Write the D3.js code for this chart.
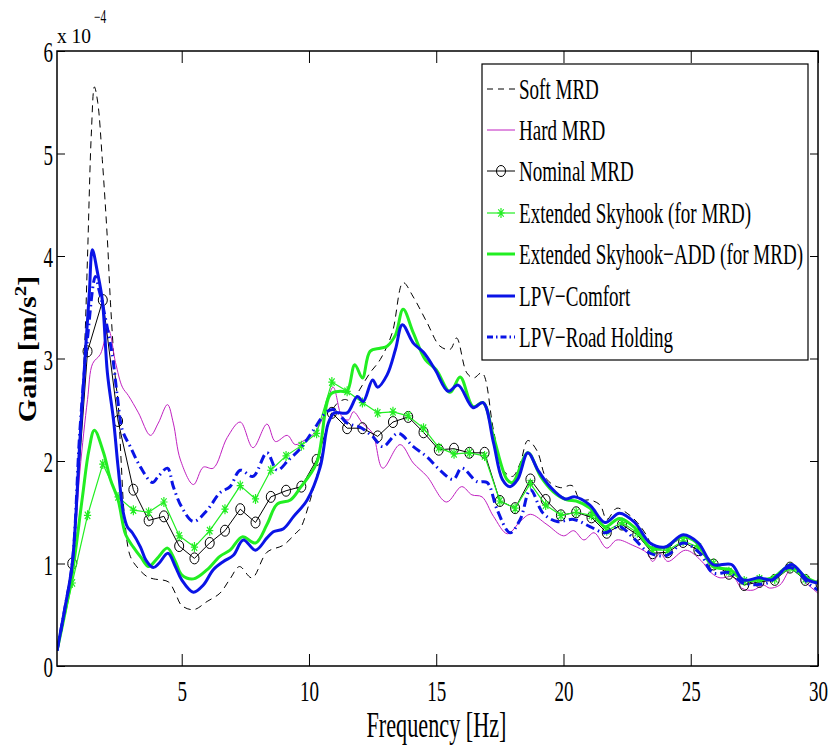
<!DOCTYPE html>
<html>
<head>
<meta charset="utf-8">
<script src="https://cdn.jsdelivr.net/npm/d3@7"></script>
<style>
  html, body { margin: 0; padding: 0; background: #fff; }
  svg { display: block; }
  text { font-family: "Liberation Serif", "Times New Roman", serif; fill: #000; }
</style>
</head>
<body>
<svg id="chart" width="829" height="746"></svg>
<script>
// ---------------- DATA (gain in units of 1e-4 m/s^2) ----------------
const seriesNames = ["Soft MRD", "Hard MRD", "Nominal MRD", "Extended Skyhook (for MRD)",
  "Extended Skyhook\u2212ADD (for MRD)", "LPV\u2212Comfort", "LPV\u2212Road Holding"];

const xTicks = [5, 10, 15, 20, 25, 30];
const yTicks = [0, 1, 2, 3, 4, 5, 6];
const yTickLabels = ["0", "1", "2", "3", "4", "5", "6"];

const softFreq = [0.1,0.4,0.7,0.95,1.18,1.3,1.45,1.57,1.7,1.88,2.08,2.2,2.4,2.5,2.62,2.75,2.98,3.3,3.65,3.9,4.48,4.75,5.0,5.47,6.0,6.5,6.9,7.27,7.76,8.35,9.0,9.5,9.66,10.05,10.44,11.0,11.4,11.7,12.0,12.4,12.8,13.27,13.7,14.1,14.64,15.15,15.55,15.8,16.2,16.47,16.8,17.25,17.63,18.0,18.3,18.6,18.96,19.35,19.87,20.34,20.65,21.04,21.44,21.7,22.1,22.5,22.9,23.3,23.5,24.07,24.7,25.25,25.75,26.27,26.66,27.05,27.7,28.2,28.9,29.5,30];
const softGain = [0.15,0.55,1.0,2.0,3.08,4.0,5.2,5.65,5.5,4.94,4.16,3.55,2.79,2.57,2.0,1.46,1.07,0.95,0.87,0.85,0.82,0.71,0.59,0.55,0.63,0.71,0.85,0.97,0.86,1.11,1.18,1.3,1.34,1.62,1.98,2.53,2.6,2.58,2.7,2.86,2.99,3.25,3.74,3.6,3.35,3.12,3.09,3.2,2.86,2.81,2.86,2.3,1.91,1.85,1.98,2.2,2.1,1.82,1.74,1.76,1.62,1.62,1.57,1.43,1.54,1.49,1.40,1.26,1.16,1.15,1.26,1.2,1.02,0.94,0.97,0.81,0.84,0.85,0.97,0.85,0.8];

const hardFreq = [0.1,0.4,0.7,1.0,1.3,1.5,1.8,2.12,2.4,2.67,2.9,3.3,3.77,4.08,4.44,4.67,4.95,5.46,5.85,6.24,6.79,7.3,7.8,8.35,8.68,9.15,9.46,9.8,10.17,10.56,10.95,11.3,11.55,11.75,12.1,12.5,12.9,13.58,14.1,14.64,15.4,16.0,16.4,16.8,17.25,17.8,18.3,18.7,19.35,20.0,20.4,20.8,21.2,21.7,22.1,22.7,23.3,23.5,23.8,24.1,24.8,25.4,25.8,26.15,26.66,27.0,27.45,27.85,28.1,28.5,29.0,29.5,30];
const hardGain = [0.15,0.5,0.95,1.9,2.6,2.95,3.04,3.28,2.96,2.72,2.64,2.47,2.25,2.37,2.55,2.37,2.01,1.77,1.94,1.93,2.23,2.38,2.13,2.36,2.19,2.25,2.16,2.2,2.26,2.43,2.72,2.43,2.40,2.48,2.37,2.27,1.93,2.16,1.98,1.85,1.6,1.75,1.67,1.65,1.46,1.29,1.41,1.48,1.38,1.27,1.32,1.23,1.30,1.15,1.23,1.18,1.10,1.02,1.10,1.02,1.13,1.03,0.91,0.86,0.87,0.76,0.74,0.79,0.76,0.79,0.96,0.82,0.71];

const nominalFreq = [0.1,0.7,1.3,1.9,2.5,3.1,3.7,4.3,4.9,5.5,6.1,6.7,7.3,7.9,8.5,9.1,9.7,10.3,10.9,11.5,12.1,12.7,13.3,13.9,14.5,15.1,15.7,16.3,16.9,17.5,18.1,18.7,19.3,19.9,20.5,21.1,21.7,22.3,22.9,23.5,24.1,24.7,25.3,25.9,26.5,27.1,27.7,28.3,28.9,29.5,30.1];
const nominalGain = [0.15,1.0,3.07,3.57,2.39,1.72,1.42,1.46,1.17,1.05,1.20,1.32,1.53,1.40,1.65,1.71,1.75,2.01,2.47,2.32,2.32,2.24,2.38,2.43,2.28,2.11,2.12,2.08,2.08,1.61,1.54,1.82,1.62,1.47,1.50,1.45,1.30,1.38,1.28,1.10,1.11,1.21,1.13,0.99,0.90,0.79,0.82,0.84,0.96,0.84,0.80];

const skyhookFreq = nominalFreq;
const skyhookGain = [0.15,0.81,1.47,1.97,1.65,1.52,1.50,1.60,1.27,1.16,1.32,1.53,1.76,1.63,1.91,2.05,2.15,2.27,2.77,2.68,2.57,2.47,2.48,2.44,2.32,2.13,2.07,2.08,2.05,1.61,1.54,1.78,1.57,1.47,1.50,1.47,1.32,1.40,1.30,1.13,1.13,1.22,1.16,1.00,0.92,0.83,0.85,0.85,0.96,0.85,0.80];

const addFreq = [0.1,0.4,0.7,1.1,1.35,1.57,1.93,2.2,2.5,2.8,3.1,3.4,3.7,4.04,4.44,4.75,5.0,5.46,6.0,6.5,6.9,7.38,7.9,8.35,8.75,9.27,9.66,10.3,10.84,11.23,11.5,11.8,12.1,12.4,12.8,13.07,13.4,13.7,14.1,14.57,15.0,15.55,15.94,16.45,16.84,17.25,17.78,18.0,18.6,19.1,19.6,20.13,20.5,21.04,21.63,22.2,22.8,23.4,24.0,24.66,25.25,25.87,26.54,27.05,27.7,28.2,28.9,29.56,30];
const addGain = [0.15,0.5,0.9,1.65,2.1,2.30,2.08,1.82,1.62,1.28,1.16,1.06,0.97,1.05,1.15,1.02,0.89,0.85,0.94,1.07,1.13,1.26,1.20,1.38,1.58,1.62,1.74,1.98,2.65,2.68,2.68,2.94,2.81,3.07,3.1,3.12,3.23,3.48,3.25,2.99,2.89,2.67,2.82,2.53,2.57,2.24,1.82,1.79,2.08,1.85,1.70,1.62,1.61,1.54,1.36,1.44,1.35,1.16,1.16,1.26,1.20,0.97,0.94,0.84,0.84,0.86,0.97,0.86,0.81];

const comfortFreq = [0.1,0.4,0.7,1.0,1.22,1.37,1.49,1.69,1.88,2.08,2.32,2.5,2.71,2.86,3.06,3.38,3.6,3.88,4.1,4.46,4.75,5.0,5.46,5.85,6.24,6.64,7.03,7.42,7.9,8.35,8.6,9.0,9.4,9.93,10.44,10.76,11.0,11.5,11.9,12.13,12.5,12.7,13.07,13.4,13.67,14.1,14.5,14.96,15.47,15.86,16.45,16.84,17.25,17.6,17.9,18.2,18.6,19.0,19.47,20.06,20.45,21.04,21.63,22.2,22.8,23.4,24.0,24.7,25.3,25.87,26.6,27.05,27.7,28.2,28.95,29.6,30];
const comfortGain = [0.15,0.55,1.0,2.2,3.08,3.64,4.06,3.84,3.57,2.86,2.4,1.94,1.49,1.36,1.3,1.16,1.03,0.96,1.0,1.10,0.97,0.84,0.72,0.79,0.94,1.02,1.08,1.23,1.13,1.25,1.31,1.34,1.46,1.62,1.94,2.37,2.47,2.47,2.63,2.58,2.79,2.72,2.84,3.09,3.33,3.15,3.06,2.89,2.68,2.74,2.52,2.57,2.18,1.82,1.75,1.82,2.08,1.91,1.75,1.63,1.65,1.57,1.40,1.49,1.40,1.20,1.16,1.28,1.20,0.99,0.99,0.84,0.86,0.84,0.99,0.84,0.81];

const roadFreq = [0.1,0.4,0.7,1.0,1.3,1.61,1.75,1.93,2.28,2.47,2.67,2.98,3.38,3.85,4.08,4.44,4.67,5.0,5.46,6.0,6.5,6.9,7.3,7.8,8.35,8.75,9.2,9.66,10.17,10.7,11.0,11.5,12.0,12.5,12.9,13.5,14.1,14.64,15.15,15.67,16.0,16.6,17.0,17.4,17.9,18.3,18.7,19.2,19.75,20.4,21.04,21.63,22.2,22.7,23.4,24.07,24.7,25.36,25.87,26.54,27.05,28.0,28.9,29.7,30];
const roadGain = [0.15,0.55,1.0,2.3,3.2,3.8,3.67,3.48,3.02,2.63,2.30,2.14,1.94,1.79,1.85,1.93,1.75,1.55,1.41,1.52,1.69,1.75,1.91,1.85,2.08,1.91,2.01,2.12,2.30,2.48,2.5,2.37,2.33,2.24,2.14,2.27,2.14,2.04,1.91,1.82,1.93,1.80,1.79,1.52,1.30,1.43,1.72,1.49,1.41,1.43,1.36,1.30,1.36,1.26,1.10,1.08,1.20,1.10,0.91,0.91,0.81,0.81,0.96,0.79,0.74];

// ---------------- CHART ----------------
const svg = d3.select("#chart");
const L = 57, R = 818, T = 51, B = 666;
const SX = 0.635; // horizontal glyph compression

const x = d3.scaleLinear().domain([0.1, 30]).range([L, R]);
const y = d3.scaleLinear().domain([0, 6]).range([B, T]);

svg.append("defs").append("clipPath").attr("id", "clip")
  .append("rect").attr("x", L).attr("y", T).attr("width", R - L).attr("height", B - T);

const zip = (xs, ys) => xs.map((f, i) => [f, ys[i]]);
const smooth = d3.line().x(d => x(d[0])).y(d => y(d[1])).curve(d3.curveCatmullRom.alpha(0.5));
const straight = d3.line().x(d => x(d[0])).y(d => y(d[1]));

const series = [
  { name: seriesNames[0], data: zip(softFreq, softGain), line: smooth, color: "#000", width: 1, dash: "7,5" },
  { name: seriesNames[1], data: zip(hardFreq, hardGain), line: smooth, color: "#c020c0", width: 1, dash: null },
  { name: seriesNames[2], data: zip(nominalFreq, nominalGain), line: straight, color: "#000", width: 1, dash: null, marker: "circle" },
  { name: seriesNames[3], data: zip(skyhookFreq, skyhookGain), line: straight, color: "#22ee22", width: 1.2, dash: null, marker: "star" },
  { name: seriesNames[4], data: zip(addFreq, addGain), line: smooth, color: "#22ee22", width: 3, dash: null },
  { name: seriesNames[5], data: zip(comfortFreq, comfortGain), line: smooth, color: "#0a14e6", width: 3, dash: null },
  { name: seriesNames[6], data: zip(roadFreq, roadGain), line: smooth, color: "#0a14e6", width: 3, dash: "9,4,1.5,4" }
];

const plot = svg.append("g").attr("clip-path", "url(#clip)");

function drawMarker(g, type, cx, cy, color) {
  if (type === "circle") {
    g.append("ellipse").attr("cx", cx).attr("cy", cy).attr("rx", 4.5).attr("ry", 5.5)
      .attr("fill", "none").attr("stroke", color).attr("stroke-width", 1);
  } else if (type === "star") {
    const hx = 3.6, hy = 5;
    const p = `M${cx - hx},${cy}L${cx + hx},${cy}M${cx},${cy - hy}L${cx},${cy + hy}` +
      `M${cx - hx * 0.75},${cy - hy * 0.75}L${cx + hx * 0.75},${cy + hy * 0.75}` +
      `M${cx - hx * 0.75},${cy + hy * 0.75}L${cx + hx * 0.75},${cy - hy * 0.75}`;
    g.append("path").attr("d", p).attr("stroke", color).attr("stroke-width", 1.2).attr("fill", "none");
  }
}

series.forEach(s => {
  plot.append("path").datum(s.data)
    .attr("d", s.line)
    .attr("fill", "none")
    .attr("stroke", s.color)
    .attr("stroke-width", s.width)
    .attr("stroke-linejoin", "round")
    .attr("stroke-dasharray", s.dash);
  if (s.marker) {
    const mg = plot.append("g");
    s.data.slice(1).forEach(d => drawMarker(mg, s.marker, x(d[0]), y(d[1]), s.color));
  }
});

// ---------------- AXES ----------------
svg.append("rect").attr("x", L).attr("y", T).attr("width", R - L).attr("height", B - T)
  .attr("fill", "none").attr("stroke", "#000").attr("stroke-width", 1.5);

const xAxis = svg.append("g").attr("transform", `translate(0,${B})`)
  .call(d3.axisBottom(x).tickValues(xTicks).tickSizeInner(-12).tickSizeOuter(0));
xAxis.select(".domain").remove();
xAxis.selectAll(".tick line").attr("stroke-width", 1);
xAxis.selectAll(".tick text")
  .attr("y", 35).attr("dy", 0)
  .attr("font-size", 30).attr("font-family", "Liberation Serif")
  .attr("transform", `scale(${SX},1)`);

const xAxisTop = svg.append("g").attr("transform", `translate(0,${T})`)
  .call(d3.axisTop(x).tickValues(xTicks).tickSizeInner(-12).tickSizeOuter(0).tickFormat(""));
xAxisTop.select(".domain").remove();

const yAxis = svg.append("g").attr("transform", `translate(${L},0)`)
  .call(d3.axisLeft(y).tickValues(yTicks).tickSizeInner(-8).tickSizeOuter(0)
    .tickFormat((d, i) => yTickLabels[i]));
yAxis.select(".domain").remove();
yAxis.selectAll(".tick text")
  .attr("x", -4 / SX).attr("dy", 10.5)
  .attr("font-size", 30).attr("font-family", "Liberation Serif")
  .attr("transform", `scale(${SX},1)`);

const yAxisRight = svg.append("g").attr("transform", `translate(${R},0)`)
  .call(d3.axisRight(y).tickValues(yTicks).tickSizeInner(-8).tickSizeOuter(0).tickFormat(""));
yAxisRight.select(".domain").remove();

// exponent label
svg.append("text").attr("transform", `translate(57,43)`)
  .attr("font-size", 22)
  .append("tspan").text("x 10").attr("textLength", 34).attr("lengthAdjust", "spacingAndGlyphs");
svg.append("text").attr("transform", `translate(94,23) scale(${SX},1)`)
  .attr("font-size", 18).text("\u22124");

// axis titles
svg.append("text").attr("transform", `translate(436.5,737) scale(${SX},1)`)
  .attr("text-anchor", "middle").attr("font-size", 35).text("Frequency [Hz]");

const yl = svg.append("text").attr("transform", `translate(36,349) rotate(-90) scale(1,0.82)`)
  .attr("text-anchor", "middle").attr("font-size", 30).attr("font-weight", "bold");
yl.append("tspan").text("Gain [m/s");
yl.append("tspan").text("2").attr("font-size", 21).attr("dy", -12);
yl.append("tspan").text("]").attr("dy", 12);

// ---------------- LEGEND ----------------
const lg = svg.append("g");
lg.append("rect").attr("x", 482).attr("y", 64).attr("width", 326).attr("height", 296)
  .attr("fill", "#fff").attr("stroke", "#000").attr("stroke-width", 1.2);
const legY = [89, 130, 171, 213, 254, 296, 337];
series.forEach((s, i) => {
  const ly = legY[i];
  lg.append("line").attr("x1", 487).attr("x2", 515).attr("y1", ly).attr("y2", ly)
    .attr("stroke", s.color).attr("stroke-width", s.width)
    .attr("stroke-dasharray", s.dash ? (s.dash === "7,5" ? "6,5" : "6,3,1.5,3") : null);
  if (s.marker) drawMarker(lg, s.marker, 501, ly, s.color);
  lg.append("text").attr("transform", `translate(519,${ly + 9.5}) scale(${SX},1)`)
    .attr("font-size", 30).text(s.name);
});
</script>
</body>
</html>
